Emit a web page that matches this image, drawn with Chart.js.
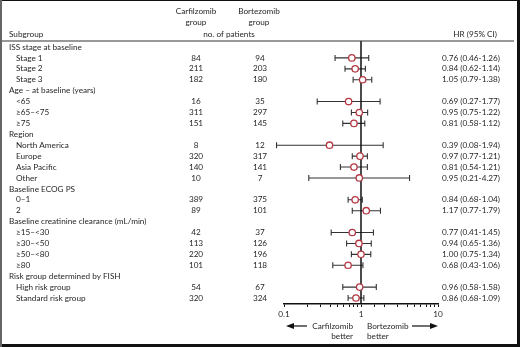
<!DOCTYPE html>
<html>
<head>
<meta charset="utf-8">
<script src="https://cdn.jsdelivr.net/npm/chart.js@4/dist/chart.umd.min.js"></script>
<style>
  body { margin: 0; background: #fff; }
  canvas { display: block; }
</style>
</head>
<body>
<canvas id="forest" width="520" height="347"></canvas>
<script>
// DATA (header rows have null values)
const subgroups = [
  'ISS stage at baseline', 'Stage 1', 'Stage 2', 'Stage 3',
  'Age – at baseline (years)', '<65', '≥65–<75', '≥75',
  'Region', 'North America', 'Europe', 'Asia Pacific', 'Other',
  'Baseline ECOG PS', '0–1', '2',
  'Baseline creatinine clearance (mL/min)', '≥15–<30', '≥30–<50', '≥50–<80', '≥80',
  'Risk group determined by FISH', 'High risk group', 'Standard risk group'
];
const carfilzomib_n = [null, 84, 211, 182, null, 16, 311, 151, null, 8, 320, 140, 10, null, 389, 89, null, 42, 113, 220, 101, null, 54, 320];
const bortezomib_n = [null, 94, 203, 180, null, 35, 297, 145, null, 12, 317, 141, 7, null, 375, 101, null, 37, 126, 196, 118, null, 67, 324];
const hr_values = [null, 0.76, 0.84, 1.05, null, 0.69, 0.95, 0.81, null, 0.39, 0.97, 0.81, 0.95, null, 0.84, 1.17, null, 0.77, 0.94, 1.00, 0.68, null, 0.96, 0.86];
const ci_low = [null, 0.46, 0.62, 0.79, null, 0.27, 0.75, 0.58, null, 0.08, 0.77, 0.54, 0.21, null, 0.68, 0.77, null, 0.41, 0.65, 0.75, 0.43, null, 0.58, 0.68];
const ci_high = [null, 1.26, 1.14, 1.38, null, 1.77, 1.22, 1.12, null, 1.94, 1.21, 1.21, 4.27, null, 1.04, 1.79, null, 1.45, 1.36, 1.34, 1.06, null, 1.58, 1.09];
const x_ticks = [0.1, 1, 10];

const FONT = 'Lato, "Open Sans", sans-serif';
const TEXT = '#231f20';
const y_min = -0.55, y_max = subgroups.length - 0.45;

let points = [];
hr_values.forEach((v, i) => {
  if (v !== null) points.push({ x: v, y: i });
});

// error bars + texts
const forestPlugin = {
  id: 'forest',
  beforeDraw(chart) {
    const ctx = chart.ctx;
    ctx.save();
    ctx.fillStyle = '#fff';
    ctx.fillRect(0, 0, chart.width, chart.height);
    // frame
    ctx.fillStyle = '#111';
    ctx.fillRect(0, 0, 520, 1);
    ctx.fillRect(517, 0, 3, 347);
    ctx.fillRect(0, 344, 520, 3);
    ctx.fillStyle = '#666';
    ctx.fillRect(0, 0, 2, 347);
    ctx.restore();
  },
  beforeDatasetsDraw(chart) {
    const ctx = chart.ctx;
    const xs = chart.scales.x, ys = chart.scales.y;
    ctx.save();
    ctx.strokeStyle = '#333';
    ctx.lineWidth = 1.1;
    hr_values.forEach((v, i) => {
      if (v === null) return;
      const y = ys.getPixelForValue(i);
      const x1 = xs.getPixelForValue(ci_low[i]);
      const x2 = xs.getPixelForValue(ci_high[i]);
      ctx.beginPath();
      ctx.moveTo(x1, y); ctx.lineTo(x2, y);
      ctx.moveTo(x1, y - 3); ctx.lineTo(x1, y + 3);
      ctx.moveTo(x2, y - 3); ctx.lineTo(x2, y + 3);
      ctx.stroke();
    });
    ctx.restore();
  },
  afterDraw(chart) {
    const ctx = chart.ctx;
    const xs = chart.scales.x, ys = chart.scales.y;
    ctx.save();
    ctx.fillStyle = TEXT;
    ctx.font = '8.2px ' + FONT;
    ctx.textBaseline = 'middle';

    // column headers
    ctx.textAlign = 'left';
    ctx.fillText('Subgroup', 9, 34);
    ctx.textAlign = 'center';
    ctx.fillText('Carfilzomib', 196, 11.5);
    ctx.fillText('group', 196, 22);
    ctx.fillText('Bortezomib', 259, 11.5);
    ctx.fillText('group', 259, 22);
    ctx.fillText('no. of patients', 229, 34);
    ctx.textAlign = 'right';
    ctx.fillText('HR (95% CI)', 497, 34);

    // header rule
    const top = ys.getPixelForValue(y_min);
    ctx.strokeStyle = '#333';
    ctx.lineWidth = 1.2;
    ctx.beginPath();
    ctx.moveTo(2, top); ctx.lineTo(514, top);
    ctx.stroke();

    // rows
    subgroups.forEach((name, i) => {
      const y = ys.getPixelForValue(i);
      const header = hr_values[i] === null;
      ctx.textAlign = 'left';
      ctx.fillText(name, header ? 9 : 16, y);
      if (header) return;
      ctx.textAlign = 'center';
      ctx.fillText(String(carfilzomib_n[i]), 196, y);
      ctx.fillText(String(bortezomib_n[i]), 260, y);
      ctx.textAlign = 'right';
      ctx.fillText(hr_values[i].toFixed(2) + ' (' + ci_low[i].toFixed(2) + '-' + ci_high[i].toFixed(2) + ')', 500, y);
    });

    // favours labels with arrows
    const ref = xs.getPixelForValue(1);
    const ay = 326;
    ctx.textAlign = 'right';
    ctx.fillText('Carfilzomib', ref - 8, ay);
    ctx.fillText('better', ref - 8, ay + 10);
    ctx.textAlign = 'left';
    ctx.fillText('Bortezomib', ref + 6, ay);
    ctx.fillText('better', ref + 6, ay + 10);

    ctx.strokeStyle = '#111';
    ctx.fillStyle = '#111';
    ctx.lineWidth = 1.2;
    function arrow(from, to) {
      const dir = Math.sign(to - from);
      ctx.beginPath();
      ctx.moveTo(from, ay); ctx.lineTo(to - dir * 6, ay);
      ctx.stroke();
      ctx.beginPath();
      ctx.moveTo(to, ay);
      ctx.lineTo(to - dir * 8, ay - 3);
      ctx.lineTo(to - dir * 8, ay + 3);
      ctx.closePath();
      ctx.fill();
    }
    arrow(307, 286);
    arrow(412, 438);
    ctx.restore();
  }
};

const forest_chart = new Chart(document.getElementById('forest').getContext('2d'), {
  type: 'scatter',
  data: {
    datasets: [
      {
        label: 'HR',
        data: points,
        pointStyle: 'circle',
        pointRadius: 3.2,
        pointBorderWidth: 1.3,
        borderColor: '#b53944',
        backgroundColor: '#ffffff',
        order: 0
      },
      {
        label: 'ref',
        data: [{ x: 1, y: y_min }, { x: 1, y: y_max }],
        showLine: true,
        borderColor: '#111',
        borderWidth: 1.5,
        pointRadius: 0,
        order: 1
      }
    ]
  },
  options: {
    responsive: false,
    animation: false,
    layout: { padding: { left: 284, right: 82, top: 41, bottom: 23 } },
    plugins: { legend: { display: false }, tooltip: { enabled: false } },
    scales: {
      x: {
        type: 'logarithmic',
        min: 0.1,
        max: 10,
        afterFit: (scale) => { scale.height = 20; },
        border: { display: true, color: '#111', width: 1.5 },
        grid: { drawOnChartArea: false, drawTicks: true, tickLength: 3, color: '#111' },
        ticks: {
          autoSkip: false,
          maxRotation: 0,
          padding: 2,
          color: TEXT,
          font: { family: FONT, size: 8.2 },
          callback: (value) => x_ticks.includes(value) ? String(value) : ''
        }
      },
      y: {
        type: 'linear',
        reverse: true,
        min: y_min,
        max: y_max,
        display: false
      }
    }
  },
  plugins: [forestPlugin]
});
</script>
</body>
</html>
